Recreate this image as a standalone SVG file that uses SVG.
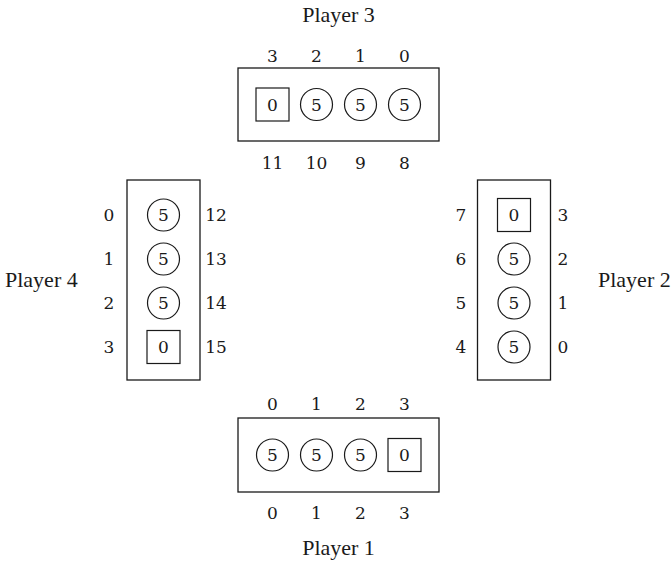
<svg xmlns="http://www.w3.org/2000/svg" width="671" height="561" viewBox="0 0 671 561">
  <style>
    .box { fill: none; stroke: #1a1a1a; stroke-width: 1.3; }
    .pit { fill: none; stroke: #1a1a1a; stroke-width: 1.2; }
    .num { font-family: "DejaVu Serif", serif; font-size: 17px; text-anchor: middle; fill: #1a1a1a; }
    .name { font-family: "Liberation Serif", serif; font-size: 22px; fill: #1a1a1a; }
    .mid { text-anchor: middle; }
  </style>
  <rect width="671" height="561" fill="#ffffff"/>

  <!-- Player 3 (top) -->
  <g id="player3">
    <text class="name mid" x="338.5" y="22">Player 3</text>
    <text class="num" x="272.5" y="62">3</text>
    <text class="num" x="316.5" y="62">2</text>
    <text class="num" x="360.5" y="62">1</text>
    <text class="num" x="404.5" y="62">0</text>
    <rect class="box" x="238" y="68" width="201" height="73"/>
    <rect class="pit" x="256" y="88" width="33" height="33"/>
    <text class="num" x="272.5" y="111">0</text>
    <circle class="pit" cx="316.5" cy="104.5" r="16"/>
    <text class="num" x="316.5" y="111">5</text>
    <circle class="pit" cx="360.5" cy="104.5" r="16"/>
    <text class="num" x="360.5" y="111">5</text>
    <circle class="pit" cx="404.5" cy="104.5" r="16"/>
    <text class="num" x="404.5" y="111">5</text>
    <text class="num" x="272.5" y="169">11</text>
    <text class="num" x="316.5" y="169">10</text>
    <text class="num" x="360.5" y="169">9</text>
    <text class="num" x="404.5" y="169">8</text>
  </g>

  <!-- Player 4 (left) -->
  <g id="player4">
    <text class="name" x="5" y="287">Player 4</text>
    <rect class="box" x="127" y="180" width="73" height="200"/>
    <text class="num" x="109" y="221">0</text>
    <text class="num" x="109" y="265">1</text>
    <text class="num" x="109" y="309">2</text>
    <text class="num" x="109" y="353">3</text>
    <circle class="pit" cx="163.5" cy="215" r="16"/>
    <text class="num" x="163.5" y="221">5</text>
    <circle class="pit" cx="163.5" cy="259" r="16"/>
    <text class="num" x="163.5" y="265">5</text>
    <circle class="pit" cx="163.5" cy="303" r="16"/>
    <text class="num" x="163.5" y="309">5</text>
    <rect class="pit" x="147" y="330.5" width="33" height="33"/>
    <text class="num" x="163.5" y="353">0</text>
    <text class="num" x="216" y="221">12</text>
    <text class="num" x="216" y="265">13</text>
    <text class="num" x="216" y="309">14</text>
    <text class="num" x="216" y="353">15</text>
  </g>

  <!-- Player 2 (right) -->
  <g id="player2">
    <text class="name" x="598" y="287">Player 2</text>
    <rect class="box" x="477.5" y="180" width="73" height="200"/>
    <text class="num" x="461" y="221">7</text>
    <text class="num" x="461" y="265">6</text>
    <text class="num" x="461" y="309">5</text>
    <text class="num" x="461" y="353">4</text>
    <rect class="pit" x="497.5" y="198.5" width="33" height="33"/>
    <text class="num" x="514" y="221">0</text>
    <circle class="pit" cx="514" cy="259" r="16"/>
    <text class="num" x="514" y="265">5</text>
    <circle class="pit" cx="514" cy="303" r="16"/>
    <text class="num" x="514" y="309">5</text>
    <circle class="pit" cx="514" cy="347" r="16"/>
    <text class="num" x="514" y="353">5</text>
    <text class="num" x="563" y="221">3</text>
    <text class="num" x="563" y="265">2</text>
    <text class="num" x="563" y="309">1</text>
    <text class="num" x="563" y="353">0</text>
  </g>

  <!-- Player 1 (bottom) -->
  <g id="player1">
    <text class="num" x="272.5" y="410">0</text>
    <text class="num" x="316.5" y="410">1</text>
    <text class="num" x="360.5" y="410">2</text>
    <text class="num" x="404.5" y="410">3</text>
    <rect class="box" x="238" y="418" width="201" height="74"/>
    <circle class="pit" cx="272.5" cy="455" r="16"/>
    <text class="num" x="272.5" y="461">5</text>
    <circle class="pit" cx="316.5" cy="455" r="16"/>
    <text class="num" x="316.5" y="461">5</text>
    <circle class="pit" cx="360.5" cy="455" r="16"/>
    <text class="num" x="360.5" y="461">5</text>
    <rect class="pit" x="388" y="438.5" width="33" height="33"/>
    <text class="num" x="404.5" y="461">0</text>
    <text class="num" x="272.5" y="519">0</text>
    <text class="num" x="316.5" y="519">1</text>
    <text class="num" x="360.5" y="519">2</text>
    <text class="num" x="404.5" y="519">3</text>
    <text class="name mid" x="338.5" y="555">Player 1</text>
  </g>

  <!-- no connectors in this diagram -->
  <g id="connectors"/>
</svg>
